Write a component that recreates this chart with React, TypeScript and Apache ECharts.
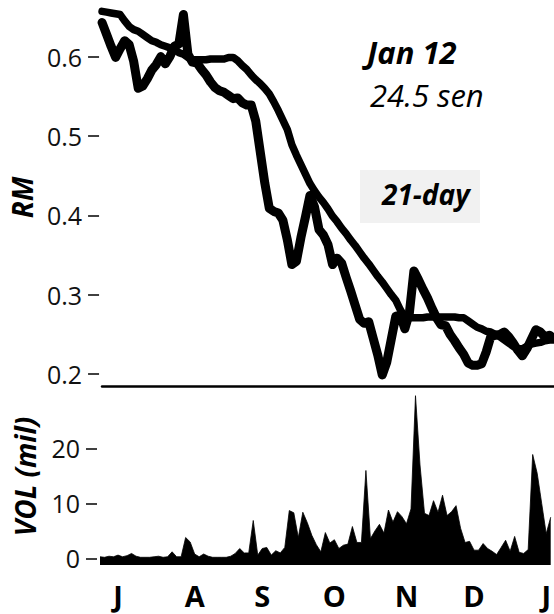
import React, { useEffect, useRef } from 'react';
import * as echarts from 'echarts';

// Daily closing price (RM), trading-day order from early July to mid January
const priceRM = [
  0.643, 0.628, 0.613, 0.599, 0.610, 0.620, 0.615, 0.594, 0.560, 0.563,
  0.572, 0.583, 0.590, 0.600, 0.591, 0.600, 0.613, 0.616, 0.653, 0.603,
  0.593, 0.592, 0.584, 0.577, 0.568, 0.561, 0.557, 0.555, 0.551, 0.547,
  0.548, 0.542, 0.539, 0.539, 0.519, 0.480, 0.441, 0.409, 0.405, 0.403,
  0.394, 0.369, 0.338, 0.342, 0.372, 0.398, 0.425, 0.411, 0.382, 0.375,
  0.363, 0.338, 0.346, 0.340, 0.322, 0.305, 0.287, 0.269, 0.264, 0.266,
  0.245, 0.224, 0.199, 0.215, 0.244, 0.273, 0.274, 0.257, 0.277, 0.330,
  0.319, 0.307, 0.296, 0.283, 0.271, 0.262, 0.261, 0.250, 0.242, 0.233,
  0.225, 0.214, 0.211, 0.211, 0.213, 0.228, 0.247, 0.249, 0.250, 0.253,
  0.247, 0.239, 0.230, 0.223, 0.232, 0.244, 0.256, 0.253, 0.247, 0.249,
  0.245,
];

// 21-day moving average (RM)
const ma21 = [
  0.657, 0.656, 0.655, 0.654, 0.653, 0.645, 0.638, 0.634, 0.632, 0.628,
  0.624, 0.620, 0.618, 0.615, 0.613, 0.611, 0.609, 0.605, 0.603, 0.599,
  0.596, 0.596, 0.596, 0.596, 0.597, 0.597, 0.597, 0.597, 0.599, 0.599,
  0.595, 0.589, 0.584, 0.577, 0.571, 0.566, 0.560, 0.553, 0.543, 0.532,
  0.520, 0.508, 0.489, 0.476, 0.464, 0.452, 0.440, 0.431, 0.423, 0.416,
  0.408, 0.399, 0.392, 0.384, 0.377, 0.369, 0.362, 0.354, 0.346, 0.339,
  0.331, 0.323, 0.316, 0.308, 0.300, 0.293, 0.281, 0.272, 0.271, 0.271,
  0.271, 0.271, 0.272, 0.272, 0.272, 0.272, 0.272, 0.272, 0.272, 0.271,
  0.271, 0.267, 0.263, 0.259, 0.257, 0.254, 0.253, 0.250, 0.247, 0.243,
  0.239, 0.235, 0.232, 0.232, 0.235, 0.238, 0.239, 0.240, 0.242, 0.243,
  0.243,
];

// Daily volume (million shares)
const volumeMil = [
  0.3, 0.2, 0.4, 0.3, 0.6, 0.3, 0.5, 0.9, 0.4, 0.2,
  0.2, 0.2, 0.3, 0.4, 0.2, 0.3, 1.2, 0.3, 0.3, 3.8,
  3.0, 0.8, 0.3, 0.8, 0.4, 0.2, 0.2, 0.2, 0.2, 0.4,
  0.9, 1.8, 1.0, 1.0, 6.9, 0.6, 1.8, 2.0, 0.6, 1.4,
  1.0, 2.0, 8.7, 8.3, 3.8, 8.4, 6.5, 4.2, 2.5, 1.2,
  4.7, 2.8, 3.4, 1.8, 2.4, 2.6, 5.8, 2.9, 2.9, 16.0,
  3.6, 5.0, 6.2, 4.6, 8.8, 6.6, 8.5, 7.6, 6.3, 9.0,
  29.6, 17.0, 8.2, 7.8, 10.5, 8.4, 11.5, 7.8, 8.5, 9.6,
  5.5, 2.9, 3.1, 1.5, 1.5, 2.7, 1.8, 1.3, 0.7, 2.0,
  3.3, 1.3, 4.0, 1.1, 0.9, 1.6, 18.9, 15.5, 10.0, 4.5,
  7.5,
];

const monthLabels = ['J', 'A', 'S', 'O', 'N', 'D', 'J'];
const monthDayIndex = [4, 21, 36, 52, 68, 83, 99];
const priceTicks = [0.2, 0.3, 0.4, 0.5, 0.6];
const volumeTicks = [0, 10, 20];

const FONT = "'Open Sans', 'DejaVu Sans', sans-serif";

export default function App() {
  const ref = useRef<HTMLDivElement>(null);

  useEffect(() => {
    if (!ref.current) return;
    const chart = echarts.init(ref.current, undefined, { renderer: 'svg' });
    const dayKeys = volumeMil.map((_, i) => String(i));

    const tickLabel = {
      fontFamily: FONT,
      fontSize: 25,
      color: '#111',
      margin: 17,
    };
    const axisName = {
      fontFamily: FONT,
      fontWeight: 'bold',
      fontStyle: 'italic',
      fontSize: 28,
      color: '#000',
    };

    chart.setOption({
      animation: false,
      backgroundColor: '#ffffff',
      grid: [
        { left: 100, right: 0, top: 9, height: 377 },
        { left: 100, right: 0, top: 388, height: 177 },
      ],
      xAxis: [
        {
          type: 'category',
          gridIndex: 0,
          data: dayKeys,
          boundaryGap: false,
          axisLine: { show: true, lineStyle: { color: '#000', width: 2.5 } },
          axisTick: { show: false },
          axisLabel: { show: false },
          splitLine: { show: false },
        },
        {
          type: 'category',
          gridIndex: 1,
          data: dayKeys,
          boundaryGap: false,
          axisLine: { show: false },
          axisTick: { show: false },
          axisLabel: {
            interval: (idx: number) => monthDayIndex.includes(idx),
            formatter: (_v: string, idx: number) => {
              const k = monthDayIndex.indexOf(idx);
              return k >= 0 ? monthLabels[k] : '';
            },
            fontFamily: FONT,
            fontWeight: 'bold',
            fontSize: 29,
            lineHeight: 29,
            color: '#000',
            margin: 16,
          },
          splitLine: { show: false },
        },
      ],
      yAxis: [
        {
          type: 'value',
          gridIndex: 0,
          min: 0.185,
          max: 0.66,
          offset: 3,
          axisLine: { show: false },
          axisTick: {
            show: true,
            length: 11,
            customValues: priceTicks,
            lineStyle: { color: '#000', width: 1.5 },
          },
          axisLabel: {
            ...tickLabel,
            customValues: priceTicks,
            formatter: (v: number) => v.toFixed(1),
          },
          splitLine: { show: false },
          name: 'RM',
          nameLocation: 'middle',
          nameRotate: 90,
          nameGap: 62,
          nameTextStyle: axisName,
        },
        {
          type: 'value',
          gridIndex: 1,
          min: -1.2,
          max: 31,
          offset: 3,
          axisLine: { show: false },
          axisTick: {
            show: true,
            length: 11,
            customValues: volumeTicks,
            lineStyle: { color: '#000', width: 1.5 },
          },
          axisLabel: {
            ...tickLabel,
            customValues: volumeTicks,
            formatter: (v: number) => String(v),
          },
          splitLine: { show: false },
          name: 'VOL (mil)',
          nameLocation: 'middle',
          nameRotate: 90,
          nameGap: 58,
          nameTextStyle: axisName,
        },
      ],
      series: [
        {
          name: 'Price',
          type: 'line',
          xAxisIndex: 0,
          yAxisIndex: 0,
          data: priceRM,
          showSymbol: false,
          clip: false,
          lineStyle: { color: '#000', width: 9, cap: 'round', join: 'round' },
          z: 2,
        },
        {
          name: '21-day',
          type: 'line',
          xAxisIndex: 0,
          yAxisIndex: 0,
          data: ma21,
          showSymbol: false,
          clip: false,
          lineStyle: { color: '#000', width: 7.5, cap: 'round', join: 'round' },
          z: 3,
        },
        {
          name: 'Volume',
          type: 'line',
          xAxisIndex: 1,
          yAxisIndex: 1,
          data: volumeMil,
          showSymbol: false,
          lineStyle: { color: '#000', width: 0.8 },
          areaStyle: { color: '#000', opacity: 1, origin: 'start' },
        },
      ],
      graphic: [
        {
          type: 'text',
          left: 367,
          top: 36,
          style: {
            text: 'Jan 12',
            fontFamily: FONT,
            fontWeight: 'bold',
            fontStyle: 'italic',
            fontSize: 31,
            fill: '#000',
          },
        },
        {
          type: 'text',
          left: 370,
          top: 79,
          style: {
            text: '24.5 sen',
            fontFamily: FONT,
            fontStyle: 'italic',
            fontSize: 31,
            fill: '#000',
          },
        },
        {
          type: 'rect',
          left: 360,
          top: 170,
          shape: { width: 120, height: 53 },
          style: { fill: '#f1f1f1' },
          z: 0,
        },
        {
          type: 'text',
          left: 382,
          top: 180,
          style: {
            text: '21-day',
            fontFamily: FONT,
            fontWeight: 'bold',
            fontStyle: 'italic',
            fontSize: 28,
            fill: '#000',
          },
          z: 1,
        },
      ],
    });

    return () => chart.dispose();
  }, []);

  return (
    <div
      ref={ref}
      style={{ position: 'fixed', left: 0, top: 0, width: 554, height: 614, background: '#fff' }}
    />
  );
}
